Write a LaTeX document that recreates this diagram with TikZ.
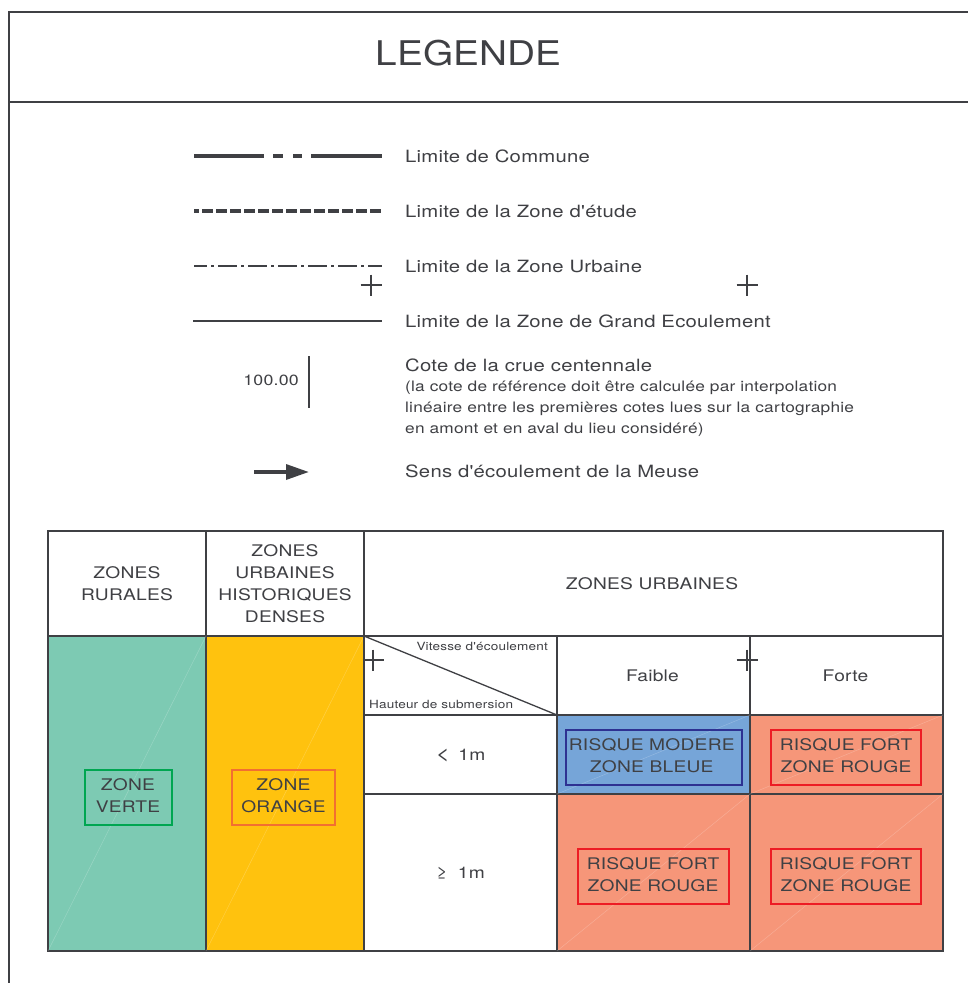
\documentclass[tikz,border=0pt]{standalone}
\usepackage{fontspec}
\setmainfont{TeX Gyre Heros}
\newfontfamily\widefont[FakeStretch=1.2,LetterSpace=1.5]{TeX Gyre Heros}
\newfontfamily\titlefont[FakeStretch=1.14]{TeX Gyre Heros}
\definecolor{ink}{HTML}{3F4044}
\definecolor{vert}{HTML}{7DCAB3}
\definecolor{orangez}{HTML}{FFC20E}
\definecolor{bleu}{HTML}{76A5D8}
\definecolor{rouge}{HTML}{F69679}
\definecolor{tagvert}{HTML}{00A651}
\definecolor{tagorange}{HTML}{F26F31}
\definecolor{tagbleu}{HTML}{2E3192}
\definecolor{tagrouge}{HTML}{ED1C24}
\tikzset{
 frameline/.style={draw=ink,line width=1.3pt},
 cell/.style={frameline,anchor=north west,inner sep=0pt,outer sep=0pt,align=center,font=\widefont\fontsize{16}{21.8}\selectfont,text=ink,text depth=0pt},
 legtext/.style={anchor=west,inner sep=0pt,text=ink,font=\widefont\fontsize{16.9}{18}\selectfont},
 smalltext/.style={inner sep=0pt,text=ink,font=\widefont\fontsize{11.3}{12}\selectfont},
 zonetag/.style={draw=#1,line width=2pt,align=center,inner sep=0pt,text=ink,text depth=3pt,font=\widefont\fontsize{16}{21.8}\selectfont},
 sheen/.style={draw=white,opacity=.22,line width=.5pt},
 plus/.style={draw=ink,line width=1.2pt}
}
\newcommand{\cellbox}[7]{% name x y w h fill text
 \node[cell,fill=#6,minimum width=#4pt,minimum height=#5pt] (#1) at (#2,#3) {#7};}
\newcommand{\plusmark}[2]{\draw[plus] (#1-10.5,#2) -- (#1+10.5,#2) (#1,#2-10.5) -- (#1,#2+10.5);}
\begin{document}
\begin{tikzpicture}[x=1pt,y=-1pt]
\useasboundingbox (0,0) rectangle (968,983);
\fill[white] (0,0) rectangle (968,983);
% outer frame
\coordinate (fb) at (9,983);
\coordinate (ftl) at (9,12);
\coordinate (ftr) at (968,12);
\coordinate (fml) at (9,102);
\coordinate (fmr) at (968,102);
\draw[frameline] (fb) -- (ftl) -- (ftr) (fml) -- (fmr);
\node[inner sep=0pt,text=ink,font=\titlefont\fontsize{34}{40}\selectfont] (title) at (468.5,53) {LEGENDE};
% legend samples
\node[legtext] (l1) at (405,156) {Limite de Commune};
\node[legtext] (l2) at (405,211) {Limite de la Zone d'étude};
\node[legtext] (l3) at (405,266) {Limite de la Zone Urbaine};
\node[legtext] (l4) at (405,321) {Limite de la Zone de Grand Ecoulement};
\coordinate (a1) at (194,156); \coordinate (b1) at (382,156);
\coordinate (a2) at (194,211); \coordinate (b2) at (382,211);
\coordinate (a3) at (194,266); \coordinate (b3) at (382,266);
\coordinate (a4) at (193,321); \coordinate (b4) at (382,321);
\draw[ink,line width=4.8pt,dash pattern=on 70pt off 9pt on 10pt off 10pt on 9pt off 9pt on 71pt off 200pt] (a1) -- (b1);
\draw[ink,line width=4.8pt,dash pattern=on 10.5pt off 3.5pt,dash phase=6pt] (a2) -- (b2);
\draw[ink,line width=2.2pt,dash pattern=on 19pt off 4pt on 3pt off 4pt,dash phase=6pt] (a3) -- (b3);
\draw[ink,line width=1.3pt] (a4) -- (b4);
\plusmark{371}{285}
\plusmark{747}{285}
% cote
\node[inner sep=0pt,text=ink,anchor=east,font=\widefont\fontsize{14.8}{16}\selectfont] (cote) at (299,380) {100.00};
\coordinate (ct) at (309,356); \coordinate (cb) at (309,408);
\draw[ink,line width=1.3pt] (ct) -- (cb);
\node[legtext] (l5) at (405,365) {Cote de la crue centennale};
\node[anchor=north west,inner sep=0pt,text=ink,align=left,font=\widefont\fontsize{14.4}{21}\selectfont] (l5b) at (405,381) {(la cote de référence doit être calculée par interpolation\\linéaire entre les premières cotes lues sur la cartographie\\en amont et en aval du lieu considéré)};
\coordinate (as) at (254,472); \coordinate (ae) at (286,472);
\draw[ink,line width=3.4pt] (as) -- (ae);
\fill[ink] (286,464) -- (308.5,472) -- (286,480) -- cycle;
\node[legtext] (l6) at (405,471) {Sens d'écoulement de la Meuse};
% table header
\cellbox{h1}{48}{531}{158}{105}{white}{ZONES\\RURALES}
\cellbox{h2}{206}{531}{158}{105}{white}{ZONES\\URBAINES\\HISTORIQUES\\DENSES}
\cellbox{h3}{364}{531}{579}{105}{white}{ZONES URBAINES\hspace*{3pt}}
% coloured columns
\cellbox{zv}{48}{636}{158}{315}{vert}{}
\cellbox{zo}{206}{636}{158}{315}{orangez}{}
\draw[sheen] (zv.south west) -- (zv.north east);
\draw[sheen] (zo.south west) -- (zo.north east);
% speed/height
\cellbox{corner}{364}{636}{193}{79}{white}{}
\draw[frameline] (corner.north west) -- (corner.south east);
\node[smalltext,anchor=east] (vit) at (548,646) {Vitesse d'écoulement};
\node[smalltext,anchor=west] (hau) at (369,704) {Hauteur de submersion};
\cellbox{faible}{557}{636}{193}{79}{white}{Faible\hspace*{2pt}}
\cellbox{forte}{750}{636}{193}{79}{white}{Forte\hspace*{2pt}}
\cellbox{lt}{364}{715}{193}{79}{white}{{\fontsize{20}{20}\selectfont<}\hspace{3pt} 1m}
\cellbox{ge}{364}{794}{193}{157}{white}{≥\hspace{5pt} 1m}
\cellbox{c11}{557}{715}{193}{79}{bleu}{}
\cellbox{c12}{750}{715}{193}{79}{rouge}{}
\cellbox{c21}{557}{794}{193}{157}{rouge}{}
\cellbox{c22}{750}{794}{193}{157}{rouge}{}
\draw[sheen] (c11.south west) -- (c11.north east);
\draw[sheen] (c12.south west) -- (c12.north east);
\draw[sheen] (c21.south west) -- (c21.north east);
\draw[sheen] (c22.south west) -- (c22.north east);
\plusmark{373}{660}
\plusmark{747}{660}
% zone tags
\node[zonetag=tagvert,minimum width=87pt,minimum height=55pt] (tv) at (128,797) {ZONE\\VERTE};
\node[zonetag=tagorange,minimum width=103pt,minimum height=55pt] (to) at (283.5,797) {ZONE\\ORANGE};
\node[zonetag=tagbleu,minimum width=176.5pt,minimum height=55pt] (tb) at (653.75,757) {RISQUE MODERE\hspace*{4pt}\\ZONE BLEUE\hspace*{4pt}};
\node[zonetag=tagrouge,minimum width=150pt,minimum height=55pt] (tr1) at (846,757) {RISQUE FORT\\ZONE ROUGE};
\node[zonetag=tagrouge,minimum width=151pt,minimum height=55pt] (tr2) at (653,876) {RISQUE FORT\\ZONE ROUGE};
\node[zonetag=tagrouge,minimum width=150pt,minimum height=55pt] (tr3) at (846,876) {RISQUE FORT\\ZONE ROUGE};
\end{tikzpicture}
\end{document}
